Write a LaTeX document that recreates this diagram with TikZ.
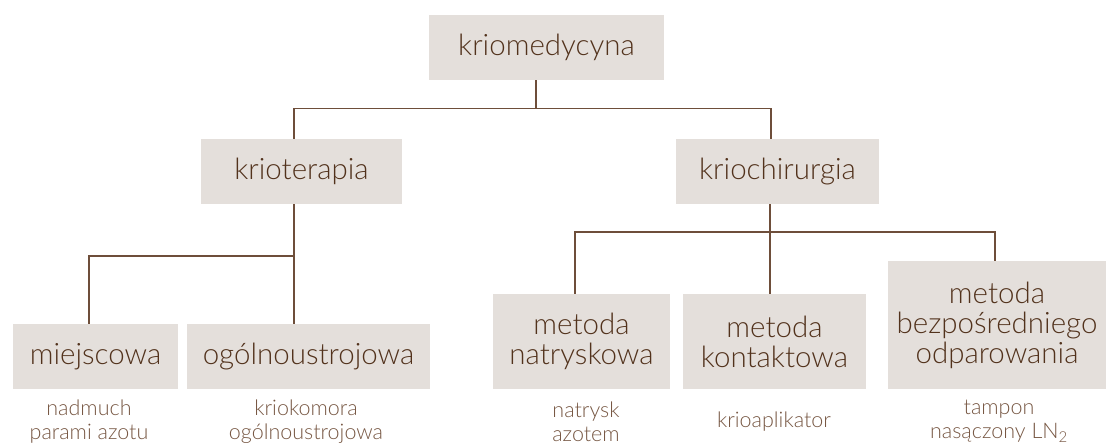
\documentclass[tikz,border=0pt]{standalone}
\usepackage{fontspec}
\setmainfont{Lato Light}
\definecolor{boxfill}{HTML}{E4DFDB}
\definecolor{txt}{HTML}{52321C}
\definecolor{lnc}{HTML}{6E4E3A}
\definecolor{subtxt}{HTML}{765642}
\tikzset{
  box/.style={rectangle, fill=boxfill, inner sep=0pt, text=txt, align=center,
    font=\fontsize{29.5}{30}\selectfont},
  sublabel/.style={inner sep=0pt, text=subtxt, align=center,
    font=\fontsize{21.5}{24}\selectfont},
  conn/.style={draw=lnc, line width=1.1pt}
}
\begin{document}
\begin{tikzpicture}[x=1pt, y=-1pt]
\useasboundingbox (0,0) rectangle (1106,444);
% boxes
\node[box, minimum width=235pt, minimum height=65pt] (top) at (546.5,47.5) {kriomedycyna};
\node[box, minimum width=201pt, minimum height=65pt] (ter) at (301.5,171.5) {krioterapia};
\node[box, minimum width=203pt, minimum height=65pt] (chir) at (777.5,171.5) {kriochirurgia};
\node[box, minimum width=165pt, minimum height=65pt] (miej) at (95.5,356.5) {miejscowa};
\node[box, minimum width=243pt, minimum height=65pt] (ogol) at (308.5,356.5) {ogólnoustrojowa};
\node[box, minimum width=177pt, minimum height=95pt] (nat) at (581.5,341.5) {metoda\\natryskowa};
\node[box, minimum width=183pt, minimum height=95pt] (kont) at (774.5,341.5) {metoda\\kontaktowa};
\node[box, minimum width=218pt, minimum height=128pt] (bezp) at (997,325) {metoda\\bezpośredniego\\odparowania};
% sub labels
\node[sublabel] (s1) at (89,421.5) {nadmuch\\parami azotu};
\node[sublabel] (s2) at (306,421.5) {kriokomora\\ogólnoustrojowa};
\node[sublabel] (s3) at (586,421.5) {natrysk\\azotem};
\node[sublabel, anchor=base] (s4) at (774,427) {krioaplikator};
\node[sublabel] (s5) at (999,421.5) {tampon\\nasączony LN\textsubscript{2}};
% junction coordinates
\coordinate (a0) at (536,108.5);
\coordinate (a1) at (294,108.5);
\coordinate (a2) at (771,108.5);
\coordinate (b0) at (294,256);
\coordinate (b1) at (89,256);
\coordinate (c0) at (770,232);
\coordinate (c1) at (575,232);
\coordinate (c2) at (995,232);
% connectors
\draw[conn] (a0 |- top.south) -- (a0);
\draw[conn] (a1 |- ter.north) -- (a1) -- (a2) -- (a2 |- chir.north);
\draw[conn] (b0 |- ter.south) -- (b0 |- ogol.north);
\draw[conn] (b0) -- (b1) -- (b1 |- miej.north);
\draw[conn] (c0 |- chir.south) -- (c0 |- kont.north);
\draw[conn] (c1 |- nat.north) -- (c1) -- (c2) -- (c2 |- bezp.north);
\end{tikzpicture}
\end{document}
